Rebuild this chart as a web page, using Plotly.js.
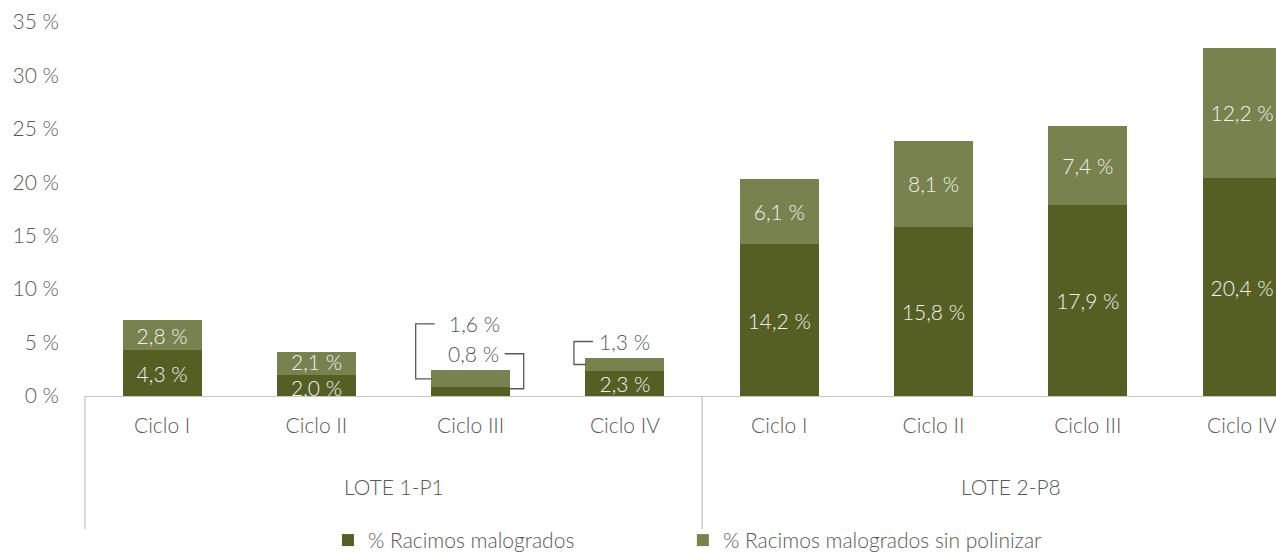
<!DOCTYPE html>
<html>
<head>
<meta charset="utf-8">
<script src="https://cdn.plot.ly/plotly-3.0.1.min.js"></script>
<style>
  html, body { margin: 0; padding: 0; background: #ffffff; }
  #chart { width: 1276px; height: 558px; }
</style>
</head>
<body>
<div id="chart"></div>
<script>
// ---- data ----
const lots = ['LOTE 1-P1', 'LOTE 2-P8'];
const cycles = ['Ciclo I', 'Ciclo II', 'Ciclo III', 'Ciclo IV'];
const malogrados = [4.3, 2.0, 0.8, 2.3, 14.2, 15.8, 17.9, 20.4];
const sinPolinizar = [2.8, 2.1, 1.6, 1.3, 6.1, 8.1, 7.4, 12.2];
const seriesNames = ['% Racimos malogrados', '% Racimos malogrados sin polinizar'];
const yTicks = [0, 5, 10, 15, 20, 25, 30, 35];
// labels drawn outside the bar with a leader line (index in the category list)
const outsideDark = [2];
const outsideLight = [2, 3];
// thin segments whose inside labels are nudged apart slightly
const nudged = [1];

// ---- styles ----
const DARK = '#555F23';
const LIGHT = '#78824E';
const GRAY_TEXT = '#595959';
const IN_TEXT = '#F2F2F2';
const FRAME = '#C6C6C6';
const FONT = 'Lato, "Open Sans", sans-serif';
const FS = 21;
const FW = 300;

const keys = [];
const cycleLabels = [];
lots.forEach(l => cycles.forEach(c => { keys.push(l + ' ' + c); cycleLabels.push(c); }));

const fmt = v => v.toFixed(1).replace('.', ',') + ' %';

const darkText = malogrados.map((v, i) => (outsideDark.includes(i) || nudged.includes(i)) ? '' : fmt(v));
const lightText = sinPolinizar.map((v, i) => (outsideLight.includes(i) || nudged.includes(i)) ? '' : fmt(v));

const traces = [
  {
    type: 'bar', name: seriesNames[0], x: keys, y: malogrados, legend: 'legend',
    marker: { color: DARK },
    text: darkText, textposition: 'inside', insidetextanchor: 'middle',
    textfont: { family: FONT, size: FS, weight: FW, color: IN_TEXT },
    hoverinfo: 'skip', cliponaxis: true
  },
  {
    type: 'bar', name: seriesNames[1], x: keys, y: sinPolinizar, legend: 'legend2',
    marker: { color: LIGHT },
    text: lightText, textposition: 'inside', insidetextanchor: 'middle',
    textfont: { family: FONT, size: FS, weight: FW, color: IN_TEXT },
    hoverinfo: 'skip', cliponaxis: true
  }
];

const annotations = [];
const shapes = [];

// nudged inside labels
nudged.forEach(i => {
  annotations.push({
    x: i, y: malogrados[i] / 2, xref: 'x', yref: 'y', text: fmt(malogrados[i]),
    showarrow: false, yshift: -2, font: { family: FONT, size: FS, weight: FW, color: IN_TEXT }
  });
  annotations.push({
    x: i, y: malogrados[i] + sinPolinizar[i] / 2, xref: 'x', yref: 'y', text: fmt(sinPolinizar[i]),
    showarrow: false, yshift: 2, font: { family: FONT, size: FS, weight: FW, color: IN_TEXT }
  });
});

// callouts for the small segments
function callout(idx, segMid, text, dx, dy, path) {
  annotations.push({
    x: idx, y: segMid, xref: 'x', yref: 'y', text: text, showarrow: false,
    xshift: dx, yshift: dy, font: { family: FONT, size: FS, weight: FW, color: GRAY_TEXT }
  });
  shapes.push({
    type: 'path', xref: 'x', yref: 'y', xsizemode: 'pixel', ysizemode: 'pixel',
    xanchor: idx, yanchor: segMid, path: path,
    line: { color: GRAY_TEXT, width: 1.3 }, layer: 'above'
  });
}
// Ciclo III (LOTE 1) light segment
callout(2, malogrados[2] + sinPolinizar[2] / 2, fmt(sinPolinizar[2]), 4, 55,
  'M-36,55 L-55,55 L-55,0 L-39,0');
// Ciclo III (LOTE 1) dark segment
callout(2, malogrados[2] / 2, fmt(malogrados[2]), 3, 38,
  'M34,38 L53,38 L53,3 L39,3');
// Ciclo IV (LOTE 1) light segment
callout(3, malogrados[3] + sinPolinizar[3] / 2, fmt(sinPolinizar[3]), 0, 23,
  'M-32,23 L-51,23 L-51,0 L-39,0');

// lot group labels
lots.forEach((l, k) => {
  annotations.push({
    x: k * cycles.length + (cycles.length - 1) / 2, xref: 'x',
    y: -0.243, yref: 'paper', yanchor: 'middle', text: l, showarrow: false,
    font: { family: FONT, size: FS, weight: FW, color: GRAY_TEXT }
  });
});

// frame lines under the axis (left edge and group divider)
shapes.push({
  type: 'line', xref: 'paper', yref: 'paper', x0: 0, x1: 0, y0: 0, y1: -0.356,
  line: { color: FRAME, width: 1.3 }, layer: 'above'
});
for (let k = 1; k < lots.length; k++) {
  const xd = k * cycles.length - 0.5;
  shapes.push({
    type: 'line', xref: 'x', yref: 'paper', x0: xd, x1: xd, y0: 0, y1: -0.356,
    line: { color: FRAME, width: 1.3 }, layer: 'above'
  });
}

const legendFont = { family: FONT, size: FS, weight: FW, color: GRAY_TEXT };
const layout = {
  width: 1276, height: 558,
  margin: { l: 85, r: 0, t: 22, b: 162, autoexpand: false },
  paper_bgcolor: '#ffffff', plot_bgcolor: '#ffffff',
  barmode: 'stack', bargap: 0.488,
  showlegend: true,
  legend: {
    orientation: 'h', x: 0.204, xanchor: 'left', y: -0.441, yanchor: 'bottom',
    font: legendFont, bgcolor: 'rgba(0,0,0,0)', itemclick: false, itemdoubleclick: false
  },
  legend2: {
    orientation: 'h', x: 0.502, xanchor: 'left', y: -0.441, yanchor: 'bottom',
    font: legendFont, bgcolor: 'rgba(0,0,0,0)', itemclick: false, itemdoubleclick: false
  },
  uniformtext: { mode: 'show', minsize: FS },
  xaxis: {
    type: 'category', categoryorder: 'array', categoryarray: keys,
    range: [-0.5, 7.22],
    tickvals: keys, ticktext: cycleLabels,
    showline: true, linecolor: FRAME, linewidth: 1.3,
    ticks: '', ticklabelstandoff: 10,
    tickfont: { family: FONT, size: FS, weight: FW, color: GRAY_TEXT },
    showgrid: false, zeroline: false, fixedrange: true
  },
  yaxis: {
    range: [0, 35], tickvals: yTicks, ticktext: yTicks.map(v => v + ' %'),
    showline: false, showgrid: false, zeroline: false, ticks: '',
    ticklabelstandoff: 25,
    tickfont: { family: FONT, size: FS, weight: FW, color: GRAY_TEXT }, fixedrange: true
  },
  annotations: annotations,
  shapes: shapes
};

Plotly.newPlot('chart', traces, layout, { displayModeBar: false, staticPlot: true });
</script>
</body>
</html>
